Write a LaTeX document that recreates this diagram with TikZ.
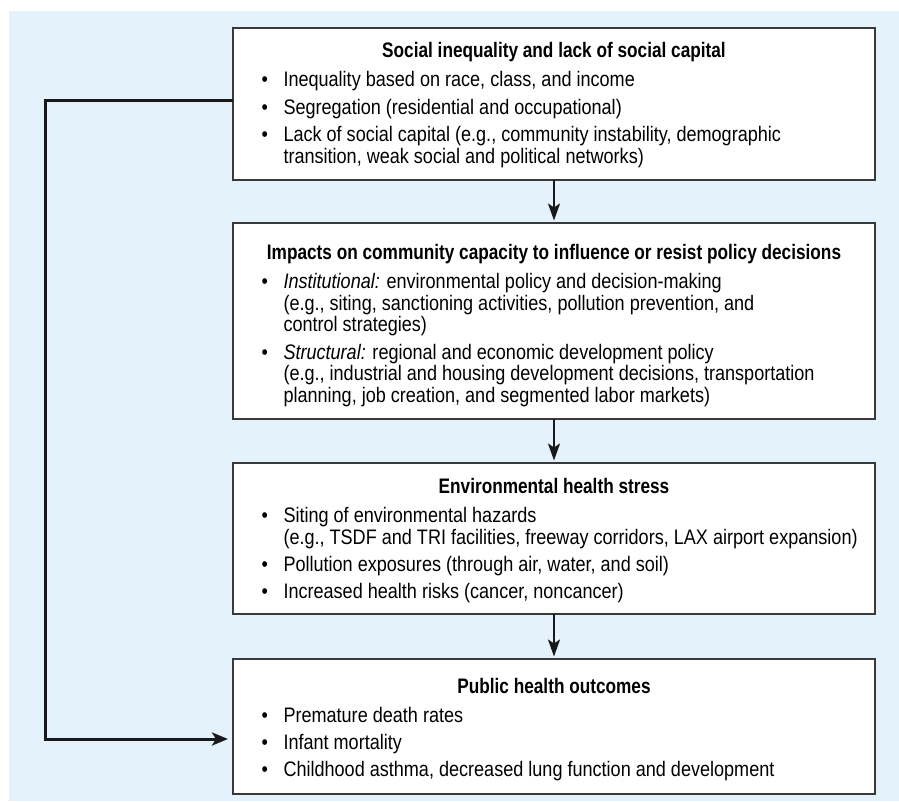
\documentclass[tikz,border=0pt]{standalone}
\usepackage{fontspec}
\setmainfont[FakeStretch=0.86, BoldFeatures={FakeStretch=0.82}]{Liberation Sans}
\usetikzlibrary{arrows.meta}
\definecolor{bgblue}{HTML}{E4F3FB}
\definecolor{edgegray}{HTML}{3A3A3A}
\newcommand\boxtitle[1]{\hbox to \linewidth{\hss\bfseries #1\hss}\par\vspace{2.3pt}}
\newcommand\bulitem[1]{\hangindent=50.5pt\hangafter=1\noindent\hbox to 50.5pt{\hskip 28.5pt\textbullet\hss}#1\par}
\newcommand\boxbody[1]{\parbox[t]{642pt}{\fontsize{21pt}{21.7pt}\selectfont\setlength\parskip{5.5pt}\setlength\parindent{0pt}#1}}
\begin{document}
\begin{tikzpicture}[x=1pt,y=-1pt,
  stagebox/.style={draw=edgegray, line width=1.7pt, fill=white, inner sep=0pt, outer sep=0pt,
    anchor=north west, minimum width=642pt},
  boxtext/.style={inner sep=0pt, outer sep=0pt, anchor=base west},
  flowarrow/.style={line width=2.3pt, black!90, -{Stealth[length=17pt,width=12pt,inset=4pt]}, shorten >=2.5pt},
  backarrow/.style={line width=3pt, black!90, -{Stealth[length=16pt,width=13pt,inset=4pt]}, shorten >=5pt}]
\useasboundingbox (0,0) rectangle (899,802);
\fill[bgblue] (9,11) rectangle (899,801);

\node[stagebox, minimum height=152pt] (b1) at (233,28) {};
\node[stagebox, minimum height=196pt] (b2) at (233,223) {};
\node[stagebox, minimum height=151pt] (b3) at (233,463) {};
\node[stagebox, minimum height=135pt] (b4) at (233,659) {};

\node[boxtext] (t1) at (233,57.5) {\boxbody{%
  \boxtitle{Social inequality and lack of social capital}
  \bulitem{Inequality based on race, class, and income}
  \bulitem{Segregation (residential and occupational)}
  \bulitem{Lack of social capital (e.g., community instability, demographic\\transition, weak social and political networks)}}};

\node[boxtext] (t2) at (233,259) {\boxbody{%
  \boxtitle{Impacts on community capacity to influence or resist policy decisions}
  \bulitem{{\itshape Institutional:} environmental policy and decision-making\\(e.g., siting, sanctioning activities, pollution prevention, and\\control strategies)}
  \bulitem{{\itshape Structural:} regional and economic development policy\\(e.g., industrial and housing development decisions, transportation\\planning, job creation, and segmented labor markets)}}};

\node[boxtext] (t3) at (233,493) {\boxbody{%
  \boxtitle{Environmental health stress}
  \bulitem{Siting of environmental hazards\\(e.g., TSDF and TRI facilities, freeway corridors, LAX airport expansion)}
  \bulitem{Pollution exposures (through air, water, and soil)}
  \bulitem{Increased health risks (cancer, noncancer)}}};

\node[boxtext] (t4) at (233,693) {\boxbody{%
  \boxtitle{Public health outcomes}
  \bulitem{Premature death rates}
  \bulitem{Infant mortality}
  \bulitem{Childhood asthma, decreased lung function and development}}};

\draw[flowarrow] (b1.south) -- (b2.north);
\draw[flowarrow] (b2.south) -- (b3.north);
\draw[flowarrow] (b3.south) -- (b4.north);

\coordinate (fbtop) at (45,101);
\coordinate (fbbot) at (45,739);
\draw[backarrow] (b1.west |- fbtop) -- (fbtop) -- (fbbot) -- (b4.west |- fbbot);
\end{tikzpicture}
\end{document}
